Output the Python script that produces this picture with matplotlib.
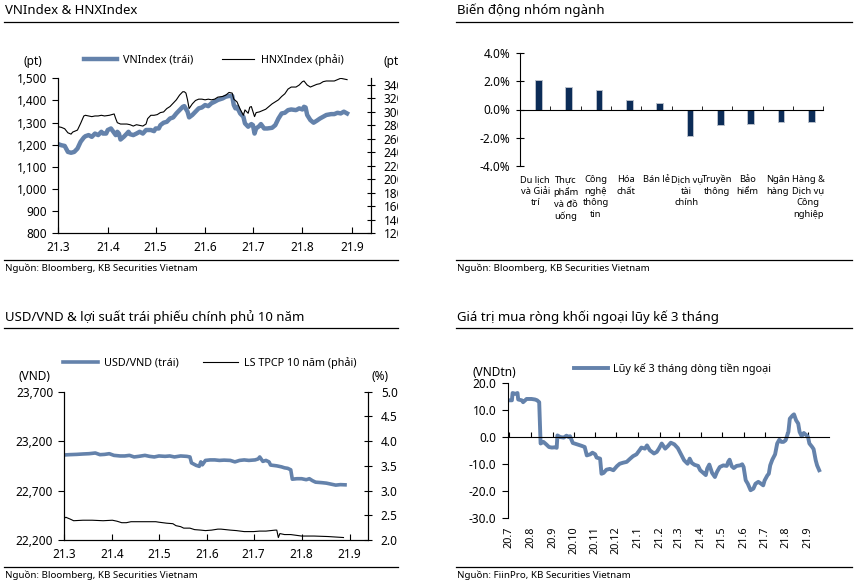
import numpy as np
import pandas as pd
import matplotlib.pyplot as plt
import matplotlib.dates as mdates
from matplotlib.lines import Line2D
from matplotlib.ticker import FuncFormatter, MultipleLocator
from matplotlib.transforms import Bbox, TransformedBbox

plt.rcParams['font.family'] = ['Noto Sans', 'DejaVu Sans']
plt.rcParams['font.size'] = 8

W, H = 855, 582
BLUE = '#6482ab'
NAVY = '#0c2c57'

# ---- VNIndex & HNXIndex (ngay tinh tu 01/03/2021) ----
start_21 = pd.Timestamp('2021-03-01')
vn_days = [0, 2, 4, 6, 8, 10, 12, 14, 16, 17, 19, 21, 23, 25, 27, 28, 30, 31, 33, 35,
           36, 37, 38, 39, 41, 43, 44, 45, 47, 49, 51, 53, 55, 58, 60, 61, 63, 64, 66, 68,
           70, 72, 74, 76, 78, 79, 81, 82, 84, 86, 88, 90, 92, 94, 96, 98, 100, 103, 105, 107,
           109, 110, 111, 112, 114, 116, 117, 119, 121, 122, 123, 124, 126, 127, 129, 131, 134, 136, 138, 140,
           142, 144, 146, 149, 151, 153, 154, 155, 156, 158, 160, 162, 164, 166, 168, 171, 173, 175, 177, 179, 181]
vn_vals = [1202, 1197, 1194, 1167, 1163, 1167, 1182, 1213, 1232, 1238, 1243, 1235, 1250, 1243, 1258, 1250, 1250, 1266, 1273, 1253,
           1243, 1258, 1250, 1223, 1235, 1250, 1258, 1247, 1243, 1250, 1258, 1250, 1266, 1266, 1261, 1273, 1273, 1288, 1299, 1303,
           1318, 1323, 1341, 1356, 1371, 1374, 1349, 1323, 1334, 1349, 1364, 1368, 1379, 1374, 1387, 1394, 1402, 1409, 1417, 1420,
           1420, 1379, 1364, 1371, 1341, 1326, 1296, 1281, 1293, 1288, 1250, 1273, 1284, 1293, 1273, 1273, 1276, 1288, 1318, 1341,
           1344, 1356, 1359, 1356, 1364, 1359, 1371, 1368, 1334, 1311, 1299, 1308, 1318, 1326, 1334, 1338, 1338, 1344, 1341, 1349, 1341]
hnx_days = [0, 2, 4, 6, 8, 9, 12, 14, 16, 17, 19, 21, 23, 25, 27, 29, 32, 35, 36, 37,
            39, 41, 43, 45, 47, 49, 51, 53, 55, 56, 58, 60, 62, 64, 66, 68, 70, 72, 74, 76,
            78, 79, 80, 81, 82, 84, 86, 88, 90, 92, 94, 96, 98, 100, 103, 105, 107, 109, 110, 112,
            114, 116, 117, 119, 120, 121, 123, 124, 126, 128, 130, 132, 134, 136, 138, 140, 142, 144, 146, 149,
            151, 153, 154, 156, 158, 160, 162, 164, 166, 168, 171, 173, 175, 177, 179, 181]
hnx_vals = [278, 277, 275, 269, 267, 270, 273, 283, 294, 295, 294, 293, 294, 294, 295, 294, 295, 297, 290, 284,
            282, 282, 282, 281, 279, 281, 280, 279, 282, 290, 295, 295, 296, 299, 300, 305, 308, 313, 318, 325,
            330, 330, 328, 318, 305, 312, 317, 319, 319, 318, 319, 318, 319, 322, 323, 325, 329, 328, 319, 315,
            304, 295, 303, 298, 307, 308, 293, 299, 300, 302, 304, 308, 312, 315, 318, 323, 327, 334, 337, 337,
            340, 345, 346, 340, 337, 339, 341, 342, 345, 346, 346, 346, 348, 350, 349, 348]

# ---- Bien dong nhom nganh ----
sectors = ['Du lịch\nvà Giải\ntrí', 'Thực\nphẩm\nvà đồ\nuống', 'Công\nnghệ\nthông\ntin', 'Hóa\nchất',
           'Bán lẻ', 'Dịch vụ\ntài\nchính', 'Truyền\nthông', 'Bảo\nhiểm', 'Ngân\nhàng',
           'Hàng &\nDịch vụ\nCông\nnghiệp']
sector_chg = [2.1, 1.6, 1.4, 0.7, 0.43, -1.86, -1.07, -1.02, -0.9, -0.9]

# ---- USD/VND & LS TPCP 10 nam ----
fx_days = [0, 3, 8, 12, 16, 20, 23, 26, 29, 32, 36, 39, 42, 45, 48, 52, 55, 58, 61, 65,
           68, 71, 75, 79, 81, 82, 85, 87, 88, 89, 91, 94, 97, 100, 103, 107, 110, 113, 116, 119,
           123, 125, 126, 128, 130, 132, 133, 137, 140, 142, 144, 146, 147, 150, 153, 156, 158, 160, 162, 166,
           169, 172, 175, 178, 181]
fx_vals = [23060, 23063, 23066, 23070, 23073, 23080, 23063, 23066, 23073, 23056, 23050, 23050, 23056, 23040, 23046, 23056, 23046, 23040, 23050, 23046,
           23050, 23040, 23050, 23046, 23040, 22980, 22955, 22945, 22990, 22960, 23005, 23010, 23010, 23005, 23008, 23005, 22990, 23005, 23010, 23005,
           23010, 23020, 23040, 22995, 23005, 22990, 22958, 22950, 22940, 22930, 22925, 22910, 22815, 22820, 22820, 22810, 22820, 22800, 22785, 22780,
           22775, 22765, 22755, 22760, 22758]
fx_ticks = [22200, 22700, 23200, 23700]
yld_days = [0, 1, 4, 6, 12, 18, 25, 31, 34, 37, 40, 43, 51, 59, 61, 66, 70, 72, 75, 77,
            81, 84, 88, 91, 95, 99, 101, 107, 111, 116, 122, 126, 130, 136, 137, 138, 139, 142, 146, 153,
            161, 170, 180]
yld_vals = [2.44, 2.46, 2.42, 2.39, 2.40, 2.40, 2.39, 2.40, 2.38, 2.35, 2.35, 2.37, 2.37, 2.37, 2.36, 2.34, 2.33, 2.29, 2.27, 2.24,
            2.24, 2.21, 2.20, 2.19, 2.20, 2.22, 2.22, 2.20, 2.19, 2.17, 2.17, 2.18, 2.18, 2.20, 2.20, 2.05, 2.13, 2.11, 2.11, 2.08,
            2.08, 2.07, 2.05]

# ---- Luy ke 3 thang dong tien ngoai (ngay tinh tu 01/07/2020) ----
start_20 = pd.Timestamp('2020-07-01')
flow_days = [0, 4, 5, 9, 12, 13, 18, 20, 25, 32, 37, 40, 43, 45, 49, 53, 57, 61, 66, 68,
             69, 73, 78, 82, 85, 87, 91, 97, 104, 108, 111, 116, 119, 123, 125, 130, 132, 135, 139, 144,
             149, 154, 158, 163, 168, 173, 177, 182, 186, 189, 194, 197, 201, 207, 211, 214, 218, 223, 227, 231,
             236, 241, 245, 250, 255, 258, 261, 265, 270, 273, 277, 281, 283, 286, 290, 294, 297, 301, 306, 311,
             313, 315, 318, 321, 325, 330, 333, 335, 338, 341, 345, 349, 352, 356, 360, 363, 365, 369, 371, 373,
             376, 380, 383, 386, 389, 392, 395, 399, 401, 405, 407, 410, 413, 415, 418, 421, 425, 427, 429, 433,
             435, 438, 440, 443]
flow_vals = [13.7, 13.7, 16.4, 16.1, 16.4, 14.0, 13.7, 13.0, 14.2, 14.2, 14.0, 13.7, 13.0, -2.3, -1.7, -2.6, -3.6, -3.8, -3.7, -3.9,
             0.7, 0.1, -0.1, 0.6, 0.1, 0.4, -2.1, -2.6, -3.2, -3.6, -6.7, -6.3, -5.7, -6.3, -7.5, -7.9, -13.5, -13.2, -12.0, -11.7,
             -12.2, -10.7, -9.8, -9.4, -9.1, -7.9, -7.0, -6.3, -4.9, -3.8, -4.2, -3.0, -4.8, -6.0, -5.4, -4.2, -2.3, -4.2, -3.2, -2.0,
             -2.6, -4.0, -6.0, -8.5, -9.8, -7.9, -9.5, -10.2, -10.6, -12.2, -13.1, -14.0, -11.6, -10.1, -13.2, -14.7, -12.8, -11.0, -10.4, -10.6,
             -9.1, -8.3, -10.7, -11.4, -10.6, -10.4, -10.0, -11.0, -15.9, -17.2, -19.6, -19.0, -17.2, -16.5, -17.2, -17.8, -16.0, -14.1, -13.5, -10.4,
             -8.3, -6.3, -2.3, -0.9, -1.7, -1.7, -1.1, 2.0, 6.9, 8.1, 8.5, 6.3, 5.1, 2.0, 0.4, 1.6, 0.7, 0.1, -2.3, -3.6,
             -4.4, -8.5, -10.4, -12.2]
flow_months = pd.date_range('2020-07-01', '2021-09-01', freq='MS')

fig = plt.figure(figsize=(W / 100, H / 100), dpi=100)


def box(l, t, r, b):
    return [l / W, 1 - b / H, (r - l) / W, (b - t) / H]


def hline(x0, x1, y):
    fig.add_artist(Line2D([x0 / W, x1 / W], [1 - y / H, 1 - y / H], color='black', lw=0.9))


def header(x0, x1, y_title, y_rule, title, y_src_rule, y_src, src):
    fig.text(x0 / W, 1 - y_title / H, title, fontsize=9.5, fontweight='bold', va='center')
    hline(x0 - 1, x1, y_rule)
    hline(x0 - 1, x1, y_src_rule)
    fig.text(x0 / W, 1 - y_src / H, src, fontsize=7, va='center')


def month_fmt(x, pos=None):
    d = mdates.num2date(x)
    return f"{d.year % 100}.{d.month}"


clip_left = TransformedBbox(Bbox.from_extents(0, 0, 398 / W, 1), fig.transFigure)

header(5, 398, 10, 22, 'VNIndex & HNXIndex', 260, 268, 'Nguồn: Bloomberg, KB Securities Vietnam')
header(457, 852, 10, 22, 'Biến động nhóm ngành', 260, 268, 'Nguồn: Bloomberg, KB Securities Vietnam')
header(5, 398, 317, 328, 'USD/VND & lợi suất trái phiếu chính phủ 10 năm', 567, 575,
       'Nguồn: Bloomberg, KB Securities Vietnam')
header(457, 852, 317, 328, 'Giá trị mua ròng khối ngoại lũy kế 3 tháng', 567, 575,
       'Nguồn: FiinPro, KB Securities Vietnam')

# ===== Panel 1 =====
ax1 = fig.add_axes(box(58.3, 78.3, 371, 233))
ax1r = ax1.twinx()
vn_x = start_21 + pd.to_timedelta(vn_days, unit='D')
hnx_x = start_21 + pd.to_timedelta(hnx_days, unit='D')
l1, = ax1.plot(vn_x, vn_vals, color=BLUE, lw=3.2, solid_joinstyle='round')
l2, = ax1r.plot(hnx_x, hnx_vals, color='black', lw=0.8)
ax1.set_ylim(800, 1500)
ax1r.set_ylim(120, 350)
ax1.set_xlim(start_21, start_21 + pd.Timedelta(days=196))
ax1.yaxis.set_major_locator(MultipleLocator(100))
ax1.yaxis.set_major_formatter(FuncFormatter(lambda v, p: f"{v:,.0f}"))
ax1r.set_yticks(np.arange(120, 341, 20))
ax1.xaxis.set_major_locator(mdates.MonthLocator())
ax1.xaxis.set_major_formatter(FuncFormatter(month_fmt))
ax1.tick_params(axis='y', direction='out', length=4, pad=4, labelsize=8.5)
ax1.tick_params(axis='x', direction='in', length=4, pad=6, labelsize=8.5)
ax1r.tick_params(axis='y', direction='inout', length=6, pad=6, labelsize=8.5)
for a in (ax1, ax1r):
    a.spines['top'].set_visible(False)
for lbl in ax1r.get_yticklabels():
    lbl.set_clip_on(True)
    lbl.set_clip_box(clip_left)
fig.legend([l1, l2], ['VNIndex (trái)', 'HNXIndex (phải)'], loc='center',
           bbox_to_anchor=(214 / W, 1 - 60 / H), ncol=2, frameon=False, fontsize=7.8,
           handlelength=3.0, handletextpad=0.6, columnspacing=2.6)
fig.text(23 / W, 1 - 62 / H, '(pt)', fontsize=8.5, va='center')
t = fig.text(383 / W, 1 - 62 / H, '(pt)', fontsize=8.5, va='center')
t.set_clip_on(True)
t.set_clip_box(clip_left)

# ===== Panel 2 =====
ax2 = fig.add_axes(box(520, 53.3, 823.3, 165.7))
xpos = np.arange(len(sectors))
ax2.bar(xpos + 0.1, sector_chg, width=0.22, color=NAVY, edgecolor='#b9c0ca', linewidth=0.7)
ax2.set_xlim(-0.5, len(sectors) - 0.5)
ax2.set_ylim(-4, 4)
ax2.set_yticks([-4, -2, 0, 2, 4])
ax2.yaxis.set_major_formatter(FuncFormatter(lambda v, p: f"{v:.1f}%"))
ax2.spines['bottom'].set_position(('data', 0))
for s in ('top', 'right'):
    ax2.spines[s].set_visible(False)
ax2.set_xticks(xpos)
ax2.set_xticklabels(sectors, fontsize=6.7, linespacing=1.4, va='top')
ax2.set_xticks(np.arange(-0.5, len(sectors), 1), minor=True)
ax2.tick_params(axis='x', which='major', length=0, pad=47)
ax2.tick_params(axis='x', which='minor', direction='in', length=3)
ax2.tick_params(axis='y', direction='inout', length=6, pad=4, labelsize=8.5)

# ===== Panel 3 =====
ax3 = fig.add_axes(box(64.3, 391.7, 368.3, 540))
ax3r = ax3.twinx()
fx_x = start_21 + pd.to_timedelta(fx_days, unit='D')
yld_x = start_21 + pd.to_timedelta(yld_days, unit='D')
l3, = ax3.plot(fx_x, fx_vals, color=BLUE, lw=2.6, solid_joinstyle='round')
l4, = ax3r.plot(yld_x, yld_vals, color='black', lw=0.8)
ax3.set_ylim(22200, 23700)
ax3r.set_ylim(2.0, 5.0)
ax3.set_xlim(start_21, start_21 + pd.Timedelta(days=196))
ax3.set_yticks(fx_ticks)
ax3.yaxis.set_major_formatter(FuncFormatter(lambda v, p: f"{v:,.0f}"))
ax3r.yaxis.set_major_locator(MultipleLocator(0.5))
ax3r.yaxis.set_major_formatter(FuncFormatter(lambda v, p: f"{v:.1f}"))
ax3.xaxis.set_major_locator(mdates.MonthLocator())
ax3.xaxis.set_major_formatter(FuncFormatter(month_fmt))
ax3.tick_params(axis='y', direction='out', length=4, pad=4, labelsize=8.5)
ax3.tick_params(axis='x', direction='in', length=4, pad=6, labelsize=8.5)
ax3r.tick_params(axis='y', direction='inout', length=6, pad=6, labelsize=8.5)
for a in (ax3, ax3r):
    a.spines['top'].set_visible(False)
fig.legend([l3, l4], ['USD/VND (trái)', 'LS TPCP 10 năm (phải)'], loc='center',
           bbox_to_anchor=(210 / W, 1 - 363 / H), ncol=2, frameon=False, fontsize=7.8,
           handlelength=3.2, handletextpad=0.6, columnspacing=2.2)
fig.text(18 / W, 1 - 377 / H, '(VND)', fontsize=8.5, va='center')
fig.text(371 / W, 1 - 377 / H, '(%)', fontsize=8.5, va='center')

# ===== Panel 4 =====
ax4 = fig.add_axes(box(507.7, 383.3, 829, 518.3))
flow_x = start_20 + pd.to_timedelta(flow_days, unit='D')
l5, = ax4.plot(flow_x, flow_vals, color=BLUE, lw=2.8, solid_joinstyle='round')
ax4.set_ylim(-30, 20)
ax4.set_xlim(start_20 - pd.Timedelta(days=2), pd.Timestamp('2021-10-01'))
ax4.yaxis.set_major_locator(MultipleLocator(10))
ax4.yaxis.set_major_formatter(FuncFormatter(lambda v, p: f"{v:.1f}"))
ax4.set_xticks(flow_months)
ax4.xaxis.set_major_formatter(FuncFormatter(month_fmt))
ax4.spines['bottom'].set_position(('data', 0))
for s in ('top', 'right'):
    ax4.spines[s].set_visible(False)
ax4.tick_params(axis='x', direction='in', length=3.5, pad=64, labelsize=7.8, labelrotation=90)
ax4.tick_params(axis='y', direction='out', length=4, pad=4, labelsize=8.5)
ax4.legend([l5], ['Lũy kế 3 tháng dòng tiền ngoại'], loc='center',
           bbox_to_anchor=(672 / W, 1 - 369 / H), bbox_transform=fig.transFigure,
           frameon=False, fontsize=7.8, handlelength=3.2, handletextpad=0.4)
fig.text(494 / W, 1 - 372 / H, '(VNDtn)', fontsize=8.5, va='center', ha='center')

fig.savefig('out.png', dpi=100)
